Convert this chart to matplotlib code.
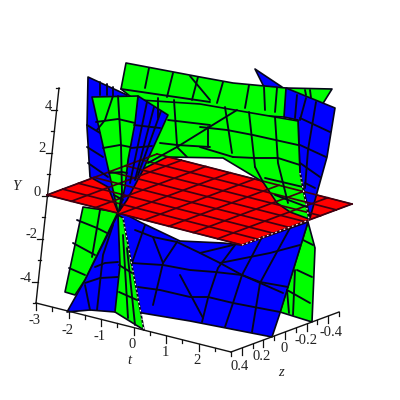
import numpy as np
import matplotlib
matplotlib.use('Agg')
import matplotlib.pyplot as plt

# screen positions, x right and y down in pixels
GREEN = '#00ff00'
BLUE = '#0000ff'
RED = '#ff0000'
INK = '#06061a'

# AXES - ends of each axis and the values on them
y_axis_ends = [(36, 303), (59, 88)]
y_range = [-5, 5]
y_ticks = [-4, -2, 0, 2, 4]
y_minor = [-5, -3, -1, 1, 3, 5]
y_labels = ['-4', '-2', '0', '2', '4']
y_label_pos = [(25, 278), (32, 235), (37, 192), (42, 148), (48, 106)]

t_axis_ends = [(36, 303), (231, 352)]
t_range = [-3, 3]
t_ticks = [-3, -2, -1, 0, 1, 2]
t_minor = [-2.5, -1.5, -0.5, 0.5, 1.5, 2.5]
t_labels = ['-3', '-2', '-1', '0', '1', '2']
t_label_pos = [(35, 320), (68, 330), (100, 337), (132, 345), (165, 353), (197, 361)]

z_axis_ends = [(231, 352), (339, 312)]
z_range = [0.5, -0.5]
z_ticks = [0.4, 0.2, 0, -0.2, -0.4]
z_minor = [0.5, 0.3, 0.1, -0.1, -0.3, -0.5]
z_labels = ['0.4', '0.2', '0', '-0.2', '-0.4']
z_label_pos = [(240, 366), (262, 357), (284, 348), (306, 340), (331, 332)]

# RED PLANE - corners and mesh values
red_left = (47, 195)
red_front = (242, 245)
red_right = (352, 204)
red_back = (157, 154)
red_t = [0, 0.125, 0.25, 0.375, 0.5, 0.625, 0.75, 0.875, 1]
red_z = [0, 0.143, 0.286, 0.429, 0.571, 0.714, 0.857, 1]

# SHEETS - outline then mesh lines
sliver_outline = [(255, 69), (282, 87), (270, 92), (263, 85)]

back_outline = [(126, 63), (200, 77), (233, 83), (286, 88), (332, 89), (322, 105),
                (284, 117), (200, 112), (140, 104), (121, 89)]
back_lines = [[(149, 68), (145, 88)], [(173, 73), (167, 97)], [(198, 77), (192, 100)],
              [(223, 82), (217, 103)], [(249, 85), (245, 108)], [(264, 87), (265, 110)],
              [(277, 88), (275, 112)], [(305, 90), (306, 95)], [(310, 90), (311, 98)],
              [(121, 89), (210, 102)], [(190, 76), (210, 100)]]

low_left_outline = [(83, 207), (118, 212), (85, 280), (75, 295), (65, 292)]
low_left_lines = [[(100, 210), (92, 257)], [(77, 220), (97, 228), (107, 233)],
                  [(73, 243), (95, 255)], [(69, 268), (85, 275)]]

low_right_outline = [(308, 222), (315, 248), (312, 322), (280, 312)]
low_right_lines = [[(295, 270), (293, 315)], [(303, 240), (313, 245)], [(297, 270), (312, 277)],
                   [(287, 290), (310, 303)], [(287, 290), (289, 313)]]

big_outline = [(118, 214), (85, 280), (67, 312), (90, 310), (115, 312), (136, 312), (190, 321),
               (272, 337), (280, 313), (308, 222), (242, 245), (223, 243), (180, 241),
               (140, 222), (125, 214)]
big_lines = [[(95, 267), (105, 263), (118, 262)], [(85, 283), (100, 278), (118, 277)],
             [(113, 225), (103, 255), (97, 310)], [(85, 285), (90, 310)],
             [(135, 230), (153, 237), (177, 242), (200, 253), (220, 263), (242, 275), (283, 293)],
             [(131, 263), (163, 265), (190, 270), (215, 272), (242, 275), (260, 282), (288, 287)],
             [(138, 287), (160, 290), (190, 297), (208, 297), (233, 303), (280, 312)],
             [(145, 225), (132, 263)], [(153, 237), (163, 263), (153, 305)],
             [(177, 242), (163, 263)], [(200, 253), (233, 245)], [(220, 263), (270, 253), (300, 245)],
             [(235, 245), (218, 268), (208, 298), (202, 322)],
             [(262, 237), (242, 275), (233, 303), (225, 327)],
             [(290, 228), (260, 283), (252, 332)], [(180, 275), (203, 318)]]

low_wedge_outline = [(118, 215), (123, 218), (144, 330), (115, 312), (120, 265)]
low_wedge_lines = [[(123, 235), (128, 318)], [(127, 248), (135, 325)],
                   [(119, 265), (132, 273)], [(119, 292), (137, 300)]]

right_outline = [(286, 88), (335, 108), (327, 157), (310, 218), (300, 173), (298, 120), (284, 117)]
right_lines = [[(297, 95), (295, 118)], [(306, 98), (300, 120)], [(316, 102), (308, 150), (305, 188)],
               [(300, 118), (330, 132)], [(300, 145), (326, 157)], [(300, 163), (320, 177)],
               [(305, 183), (315, 188)]]

left_outline = [(88, 77), (127, 95), (130, 190), (118, 212), (108, 187), (90, 177), (87, 127)]
left_lines = [[(87, 125), (100, 133)], [(87, 147), (103, 157)], [(88, 163), (108, 177)],
              [(107, 84), (107, 95)], [(100, 82), (100, 95)], [(113, 87), (113, 95)]]

arch_outline = [(140, 100), (200, 104), (298, 121), (300, 173), (309, 219), (290, 212), (277, 203),
                (263, 182), (223, 158), (167, 157), (135, 173)]
arch_lines = [[(174, 100), (177, 145)], [(158, 98), (158, 118)], [(168, 120), (210, 125)],
              [(160, 143), (177, 145), (210, 147)], [(177, 147), (237, 110)],
              [(148, 163), (177, 147)], [(177, 147), (187, 157)], [(208, 127), (208, 147)],
              [(225, 107), (232, 153)], [(249, 112), (255, 167)], [(275, 117), (278, 163), (288, 203)],
              [(200, 127), (227, 130), (253, 135), (298, 145)], [(200, 147), (233, 157)],
              [(255, 158), (278, 158), (300, 165)], [(233, 157), (255, 158)],
              [(265, 178), (303, 187)], [(275, 195), (307, 207)],
              [(255, 167), (263, 182)]]

wedge_blue_outline = [(138, 96), (168, 115), (143, 170), (127, 200), (120, 210)]
wedge_blue_lines = [[(147, 102), (130, 183)], [(154, 107), (135, 180)], [(161, 111), (138, 175)],
                    [(134, 125), (160, 128)], [(131, 148), (152, 146)]]

wedge_green_outline = [(92, 97), (138, 96), (135, 123), (128, 160), (125, 187), (120, 210), (118, 212)]
wedge_green_lines = [[(113, 96), (105, 120), (97, 130)], [(96, 122), (118, 119), (135, 123)],
                     [(118, 96), (121, 145), (122, 193), (119, 210)],
                     [(103, 148), (120, 145), (130, 147)], [(109, 173), (122, 172), (127, 173)],
                     [(114, 195), (123, 200)]]

white_edges = [[(242, 245), (309, 220)], [(123, 218), (144, 330)], [(300, 173), (309, 219)]]


def axis_point(ends, rng, value):
    f = (value - rng[0]) / (rng[1] - rng[0])
    return (ends[0][0] + f*(ends[1][0] - ends[0][0]), ends[0][1] + f*(ends[1][1] - ends[0][1]))


def draw_sheet(ax, outline, lines, color):
    xs = [p[0] for p in outline]
    ys = [p[1] for p in outline]
    ax.fill(xs, ys, facecolor=color, edgecolor=INK, linewidth=1.2, joinstyle='round')
    for line in lines:
        ax.plot([p[0] for p in line], [p[1] for p in line], color=INK, lw=1.35,
                solid_capstyle='round')


def red_point(u, v):
    a = np.array(red_left)*(1 - u) + np.array(red_front)*u
    b = np.array(red_back)*(1 - u) + np.array(red_right)*u
    return a*(1 - v) + b*v


fig = plt.figure(figsize=(4, 4), dpi=100)
ax = fig.add_axes([0, 0, 1, 1])
ax.set_xlim(0, 400)
ax.set_ylim(400, 0)
ax.axis('off')

# AXIS LINES AND TICKS
for ends in [y_axis_ends, t_axis_ends, z_axis_ends]:
    ax.plot([ends[0][0], ends[1][0]], [ends[0][1], ends[1][1]], color='#111111', lw=1.0)
for v in y_ticks:
    p = axis_point(y_axis_ends, y_range, v)
    ax.plot([p[0] - 6, p[0]], [p[1], p[1]], color='#111111', lw=0.9)
for v in y_minor:
    p = axis_point(y_axis_ends, y_range, v)
    ax.plot([p[0] - 3, p[0]], [p[1], p[1]], color='#111111', lw=0.9)
for ends, rng, major, minor in [(t_axis_ends, t_range, t_ticks, t_minor),
                                (z_axis_ends, z_range, z_ticks, z_minor)]:
    for v in major:
        p = axis_point(ends, rng, v)
        ax.plot([p[0], p[0]], [p[1], p[1] + 7], color='#111111', lw=0.9)
    for v in minor:
        p = axis_point(ends, rng, v)
        ax.plot([p[0], p[0]], [p[1], p[1] + 3.5], color='#111111', lw=0.9)

# AXIS TEXT
for labels, places in [(y_labels, y_label_pos), (t_labels, t_label_pos), (z_labels, z_label_pos)]:
    for s, p in zip(labels, places):
        ax.text(p[0], p[1], s, family='Liberation Serif', fontsize=10.5, color='#222222',
                ha='center', va='center')
ax.text(16, 187, 'Y', family='Liberation Serif', style='italic', fontsize=10.5, color='#222222',
        ha='center', va='center')
ax.text(129, 361, 't', family='Liberation Serif', style='italic', fontsize=10.5, color='#222222',
        ha='center', va='center')
ax.text(281, 373, 'z', family='Liberation Serif', style='italic', fontsize=10.5, color='#222222',
        ha='center', va='center')

# SHEETS BEHIND AND BELOW THE RED PLANE
draw_sheet(ax, sliver_outline, [], BLUE)
draw_sheet(ax, back_outline, back_lines, GREEN)
draw_sheet(ax, low_left_outline, low_left_lines, GREEN)
draw_sheet(ax, low_right_outline, low_right_lines, GREEN)
draw_sheet(ax, big_outline, big_lines, BLUE)
draw_sheet(ax, low_wedge_outline, low_wedge_lines, GREEN)

# RED PLANE
corners = [red_left, red_front, red_right, red_back]
ax.fill([p[0] for p in corners], [p[1] for p in corners], facecolor=RED, edgecolor='#300010', lw=0.8)
for u in red_t:
    a = red_point(u, red_z[0])
    b = red_point(u, red_z[-1])
    ax.plot([a[0], b[0]], [a[1], b[1]], color='#400010', lw=1.25)
for v in red_z:
    a = red_point(red_t[0], v)
    b = red_point(red_t[-1], v)
    ax.plot([a[0], b[0]], [a[1], b[1]], color='#400010', lw=1.25)

# SHEETS IN FRONT OF THE RED PLANE
draw_sheet(ax, right_outline, right_lines, BLUE)
draw_sheet(ax, left_outline, left_lines, BLUE)
draw_sheet(ax, arch_outline, arch_lines, GREEN)
draw_sheet(ax, wedge_blue_outline, wedge_blue_lines, BLUE)
draw_sheet(ax, wedge_green_outline, wedge_green_lines, GREEN)

# white specks along the sharp edges
for edge in white_edges:
    ax.plot([edge[0][0], edge[1][0]], [edge[0][1], edge[1][1]], color='white', lw=0.8,
            ls=(0, (1.5, 2.5)))

fig.savefig('out.png', dpi=100)
